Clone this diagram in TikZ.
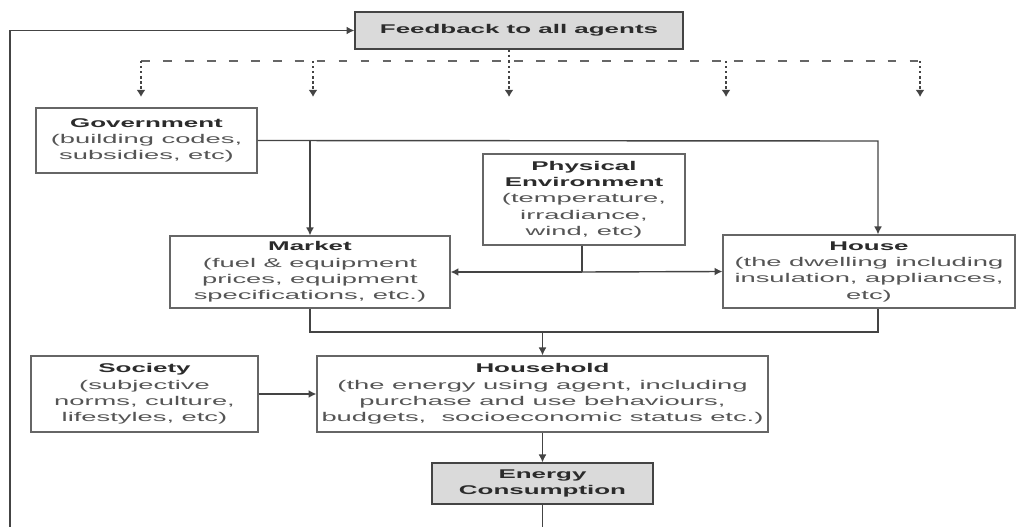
\documentclass[tikz,border=0pt]{standalone}
\usepackage{fontspec}
\setmainfont{Liberation Sans}
\newfontfamily\tfont{Liberation Sans}[FakeStretch=2.05]
\newfontfamily\dfont{Liberation Sans}[FakeStretch=2.16]
\usetikzlibrary{arrows.meta}
\definecolor{tcol}{HTML}{2B2B2B}
\definecolor{dcol}{HTML}{555555}
\definecolor{lcol}{HTML}{444444}
\definecolor{bcol}{HTML}{666666}
\definecolor{gfill}{HTML}{DADADA}
\newcommand{\hdr}[1]{{\tfont\bfseries\color{tcol}#1}}
\tikzset{
  box/.style={draw=bcol, line width=0.7pt, fill=white, inner sep=0pt, align=center,
    text=dcol, font={\dfont\fontsize{7.2pt}{9.3pt}\selectfont}},
  graybox/.style={box, fill=gfill, draw=lcol},
  conn/.style={draw=lcol, line width=0.8pt},
  arr/.style={conn, -{Latex[length=4.5pt,width=4.5pt]}},
  busline/.style={draw=bcol, line width=0.8pt, dash pattern=on 5pt off 7.5pt},
  dotarr/.style={draw=lcol, line width=0.8pt, dash pattern=on 1.3pt off 1.6pt, -{Latex[length=4pt,width=5pt]}},
  dotline/.style={draw=lcol, line width=0.8pt, dash pattern=on 1.3pt off 1.6pt},
}
\begin{document}
\begin{tikzpicture}[x=0.02cm, y=-0.02cm]
\clip (0,0) rectangle (1018,527);
\fill[white] (0,0) rectangle (1018,527);

\node[graybox, minimum width=6.56cm, minimum height=0.74cm] (fb) at (519,30.5) {\hdr{Feedback to all agents}};
\node[box, minimum width=4.42cm, minimum height=1.30cm] (gov) at (146.5,140.5) {\hdr{Government}\\(building codes,\\subsidies, etc)};
\node[box, minimum width=4.04cm, minimum height=1.82cm] (phys) at (584,199.5) {\hdr{Physical}\\\hdr{Environment}\\(temperature,\\irradiance,\\wind, etc)};
\node[box, minimum width=5.60cm, minimum height=1.44cm] (market) at (310,272) {\hdr{Market}\\(fuel \& equipment\\prices, equipment\\specifications, etc.)};
\node[box, minimum width=5.84cm, minimum height=1.46cm] (house) at (869,271.5) {\hdr{House}\\(the dwelling including\\insulation, appliances,\\etc)};
\node[box, minimum width=4.54cm, minimum height=1.52cm] (society) at (144.5,394) {\hdr{Society}\\(subjective\\norms, culture,\\lifestyles, etc)};
\node[box, minimum width=9.02cm, minimum height=1.52cm] (household) at (542.5,394) {\hdr{Household}\\(the energy using agent, including\\purchase and use behaviours,\\budgets,\ \ socioeconomic status etc.)};
\node[graybox, minimum width=4.42cm, minimum height=0.82cm] (energy) at (542.5,483.5) {\hdr{Energy}\\\hdr{Consumption}};

% feedback bus
\coordinate (bL) at (141,61);
\coordinate (bR) at (920,61);
\coordinate (bM) at (509,61);
\draw[dotline] (fb.south -| bM) -- (bM);
\draw[busline] (bL) -- (bR);
\foreach \xx/\nm in {141/t1, 313/t2, 509/t3, 726/t4, 920/t5}{
  \coordinate (\nm) at (\xx,61);
  \coordinate (\nm e) at (\xx,97);
  \draw[dotarr] (\nm) -- (\nm e);
}

% government
\coordinate (gR) at (878,141);
\coordinate (gM) at (310,141);
\draw[arr] (gov.east) -- (gR) -- (house.north -| gR);
\draw[arr] (gM) -- (market.north);

% physical environment
\coordinate (pJ) at (582,272);
\draw[conn] (phys.south -| pJ) -- (pJ);
\draw[arr] (pJ) -- (market.east);
\draw[arr] (pJ) -- (house.west);

% market + house to household
\coordinate (mB) at (310,332);
\coordinate (hB) at (878,332);
\coordinate (hhT) at (542.5,332);
\draw[conn] (market.south) -- (mB) -- (hB) -- (house.south -| hB);
\draw[arr] (hhT) -- (household.north);

% society
\draw[arr] (society.east) -- (society.east -| household.west);

% energy
\draw[arr] (household.south) -- (energy.north);

% feedback loop
\coordinate (lB) at (542.5,560);
\coordinate (lL) at (10,560);
\coordinate (lT) at (10,30.5);
\draw[arr] (energy.south) -- (lB) -- (lL) -- (lT) -- (fb.west);
\end{tikzpicture}
\end{document}
